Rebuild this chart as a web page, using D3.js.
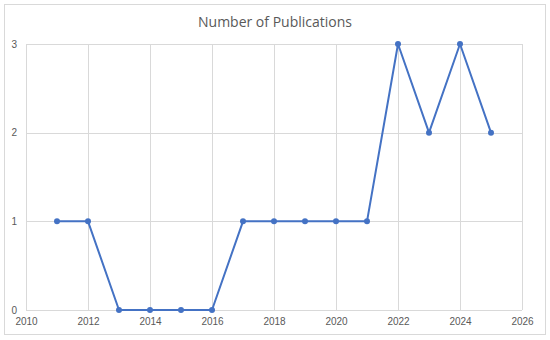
<!DOCTYPE html>
<html>
<head>
<meta charset="utf-8">
<script src="https://cdn.jsdelivr.net/npm/d3@7"></script>
<style>
  body { margin: 0; background: #fff; }
  svg { display: block; font-family: "Open Sans", "Noto Sans", sans-serif; }
</style>
</head>
<body>
<script>
const years = [2011, 2012, 2013, 2014, 2015, 2016, 2017, 2018, 2019, 2020, 2021, 2022, 2023, 2024, 2025]
const counts = [1, 1, 0, 0, 0, 0, 1, 1, 1, 1, 1, 3, 2, 3, 2]
const xTicks = [2010, 2012, 2014, 2016, 2018, 2020, 2022, 2024, 2026]
const yTicks = [0, 1, 2, 3]
const title = 'Number of Publications'

const width = 550,
  height = 340
const margin = { top: 44, right: 28, bottom: 30, left: 26 }

const svg = d3.select('body').append('svg')
  .attr('width', width)
  .attr('height', height)

// chart frame
svg.append('rect')
  .attr('x', 4.5).attr('y', 4.5)
  .attr('width', 541).attr('height', 330)
  .attr('fill', '#fff')
  .attr('stroke', '#d9d9d9')

const x = d3.scaleLinear()
  .domain([2010, 2026])
  .range([margin.left, width - margin.right])

const y = d3.scaleLinear()
  .domain([0, 3])
  .range([height - margin.bottom, margin.top])

// grid
svg.append('g')
  .attr('stroke', '#d9d9d9')
  .attr('stroke-width', 1)
  .call(g => g.selectAll('.v').data(xTicks).join('line')
    .attr('x1', d => Math.round(x(d)) + 0.5).attr('x2', d => Math.round(x(d)) + 0.5)
    .attr('y1', y(3)).attr('y2', y(0)))
  .call(g => g.selectAll('.h').data(yTicks).join('line')
    .attr('x1', x(2010)).attr('x2', x(2026))
    .attr('y1', d => Math.round(y(d)) + 0.5).attr('y2', d => Math.round(y(d)) + 0.5))

// axes (labels only)
const xAxis = svg.append('g')
  .attr('transform', `translate(0,${y(0)})`)
  .call(d3.axisBottom(x).tickValues(xTicks).tickFormat(d3.format('d')).tickSize(0).tickPadding(8))
xAxis.select('.domain').remove()
xAxis.selectAll('text').attr('fill', '#595959').attr('font-size', 10)

const yAxis = svg.append('g')
  .attr('transform', `translate(${x(2010)},0)`)
  .call(d3.axisLeft(y).tickValues(yTicks).tickFormat(d3.format('d')).tickSize(0).tickPadding(9))
yAxis.select('.domain').remove()
yAxis.selectAll('text').attr('fill', '#595959').attr('font-size', 10)

// title
svg.append('text')
  .attr('x', width / 2)
  .attr('y', 27)
  .attr('text-anchor', 'middle')
  .attr('fill', '#595959')
  .attr('font-size', 14)
  .text(title)

// series
const line = d3.line()
  .x((d, i) => x(years[i]))
  .y(d => y(d))

svg.append('path')
  .datum(counts)
  .attr('fill', 'none')
  .attr('stroke', '#4472C4')
  .attr('stroke-width', 2)
  .attr('stroke-linejoin', 'round')
  .attr('d', line)

svg.append('g')
  .selectAll('circle')
  .data(counts)
  .join('circle')
  .attr('cx', (d, i) => x(years[i]))
  .attr('cy', d => y(d))
  .attr('r', 3)
  .attr('fill', '#4472C4')
</script>
</body>
</html>
